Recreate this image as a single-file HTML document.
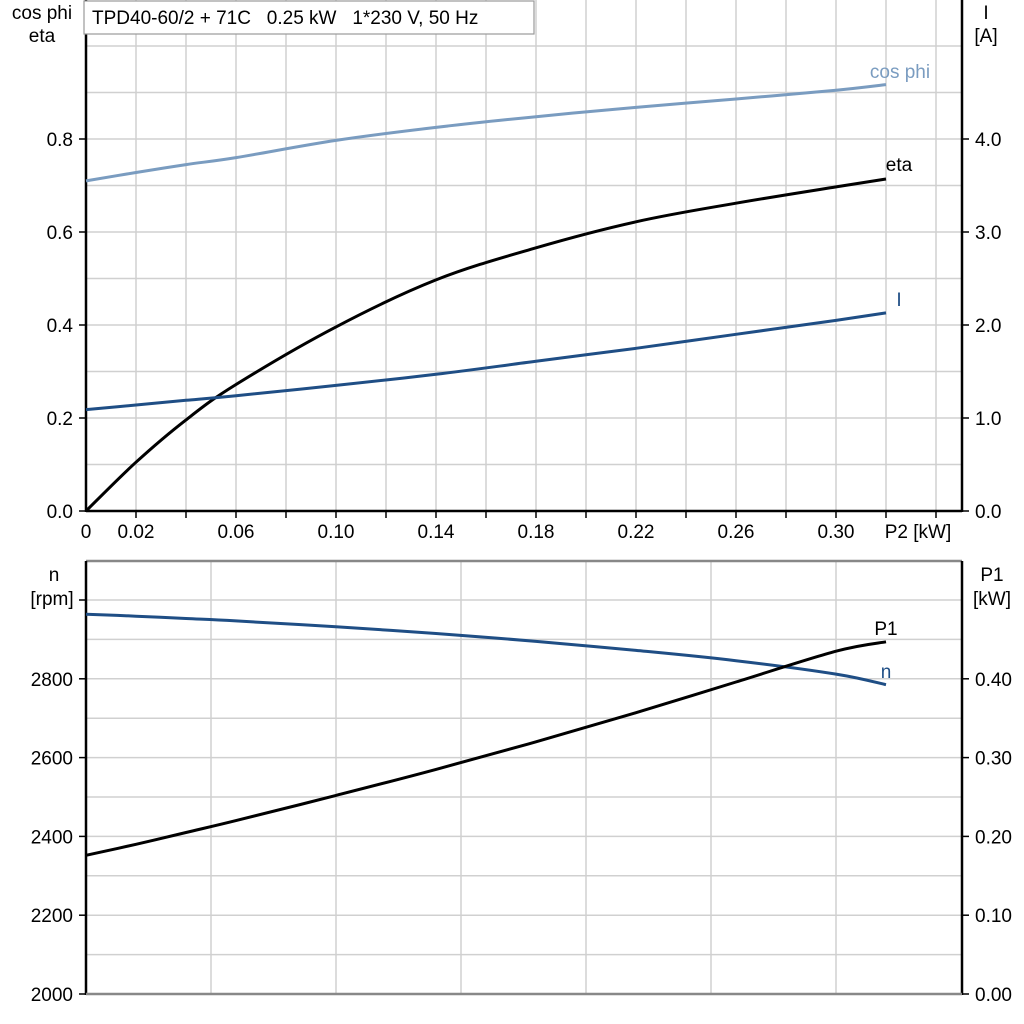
<!DOCTYPE html>
<html><head><meta charset="utf-8"><style>
body{margin:0;background:#fff;}
svg{display:block;font-family:"Liberation Sans",Arial,sans-serif;}
</style></head><body>
<svg id="c" width="1024" height="1024" viewBox="0 0 1024 1024"></svg>
<script>
const p2 = [0, 0.02, 0.04, 0.06, 0.10, 0.14, 0.18, 0.22, 0.26, 0.30, 0.32];
const cosPhi = [0.710, 0.728, 0.745, 0.760, 0.797, 0.825, 0.848, 0.868, 0.886, 0.905, 0.917];
const eta = [0.0, 0.105, 0.196, 0.272, 0.396, 0.497, 0.566, 0.622, 0.662, 0.697, 0.714];
const current = [1.09, 1.14, 1.19, 1.24, 1.35, 1.47, 1.61, 1.75, 1.90, 2.05, 2.13];
const speed = [2964, 2959, 2953, 2947, 2932, 2915, 2895, 2872, 2846, 2812, 2785];
const p1 = [0.176, 0.190, 0.205, 0.220, 0.252, 0.285, 0.320, 0.357, 0.396, 0.435, 0.447];
const xTicks = ["0","0.02","0.06","0.10","0.14","0.18","0.22","0.26","0.30"];
const xTickVals = [0,0.02,0.06,0.10,0.14,0.18,0.22,0.26,0.30];
const etaTicks = [0,0.2,0.4,0.6,0.8];
const iTicks = [0,1,2,3,4];
const nTicks = [2000,2200,2400,2600,2800];
const p1Ticks = [0,0.1,0.2,0.3,0.4];

const NS="http://www.w3.org/2000/svg";
const svg=document.getElementById('c');
function el(t,a,txt){const e=document.createElementNS(NS,t);for(const k in a)e.setAttribute(k,a[k]);if(txt!=null)e.textContent=txt;svg.appendChild(e);return e;}
const X0=86,X1=962;
const x=v=>X0+v*2500;
const yEta=v=>511-v*465;
const yI=v=>511-v*93;
const yN=v=>994-(v-2000)*0.394;
const yP1=v=>994-v*788;

for(let v=0.1;v<=1.01;v+=0.1){const g=el('line',{x1:X0,x2:X1,y1:yEta(v),y2:yEta(v),stroke:'#d0d0d0','stroke-width':1.5});}
for(let v=0.02;v<=0.35;v+=0.02){const g=el('line',{x1:x(v),x2:x(v),y1:0,y2:511,stroke:'#d0d0d0','stroke-width':1.5});}
for(let v=2100;v<=3050;v+=100){const g=el('line',{x1:X0,x2:X1,y1:yN(v),y2:yN(v),stroke:'#d0d0d0','stroke-width':1.5});}
for(let v=0.05;v<=0.34;v+=0.05){const g=el('line',{x1:x(v),x2:x(v),y1:561,y2:994,stroke:'#d0d0d0','stroke-width':1.5});}

el('line',{x1:X0,x2:X0,y1:0,y2:512,stroke:'#000','stroke-width':2.5});
el('line',{x1:X1,x2:X1,y1:0,y2:512,stroke:'#000','stroke-width':2.5});
el('line',{x1:X0,x2:X1,y1:511,y2:511,stroke:'#000','stroke-width':2.5});
el('line',{x1:X0,x2:X1,y1:561,y2:561,stroke:'#888','stroke-width':2.5});
el('line',{x1:X0,x2:X0,y1:561,y2:995,stroke:'#000','stroke-width':2.5});
el('line',{x1:X1,x2:X1,y1:561,y2:995,stroke:'#000','stroke-width':2.5});
el('line',{x1:X0,x2:X1,y1:994,y2:994,stroke:'#888','stroke-width':2.5});

const fs=19;
for(let v=0.02;v<=0.35;v+=0.02){el('line',{x1:x(v),x2:x(v),y1:511,y2:518,stroke:'#000','stroke-width':1.5});}
xTicks.forEach((t,i)=>{const e=el('text',{x:x(xTickVals[i]),y:538,'font-size':fs,'text-anchor':'middle'},t);});
el('text',{x:918,y:538,'font-size':fs,'text-anchor':'middle'},'P2 [kW]');

etaTicks.forEach(v=>{el('line',{x1:X0-7,x2:X0,y1:yEta(v),y2:yEta(v),stroke:'#000','stroke-width':1.5});const e=el('text',{x:73,y:yEta(v)+7,'font-size':fs,'text-anchor':'end'},v.toFixed(1));});
iTicks.forEach(v=>{el('line',{x1:X1,x2:X1+7,y1:yI(v),y2:yI(v),stroke:'#000','stroke-width':1.5});const e=el('text',{x:975,y:yI(v)+7,'font-size':fs},v.toFixed(1));});
nTicks.forEach(v=>{el('line',{x1:X0-7,x2:X0,y1:yN(v),y2:yN(v),stroke:'#000','stroke-width':1.5});const e=el('text',{x:73,y:yN(v)+7,'font-size':fs,'text-anchor':'end'},String(v));});
el('line',{x1:X0-7,x2:X0,y1:yN(3000),y2:yN(3000),stroke:'#000','stroke-width':1.5});
p1Ticks.forEach(v=>{el('line',{x1:X1,x2:X1+7,y1:yP1(v),y2:yP1(v),stroke:'#000','stroke-width':1.5});const e=el('text',{x:975,y:yP1(v)+7,'font-size':fs},v.toFixed(2));});

el('text',{x:42,y:19,'font-size':fs,'text-anchor':'middle'},'cos phi');
el('text',{x:42,y:42,'font-size':fs,'text-anchor':'middle'},'eta');
el('text',{x:986,y:19,'font-size':fs,'text-anchor':'middle'},'I');
el('text',{x:986,y:42,'font-size':fs,'text-anchor':'middle'},'[A]');
el('text',{x:54,y:581,'font-size':fs,'text-anchor':'middle'},'n');
el('text',{x:52,y:605,'font-size':fs,'text-anchor':'middle'},'[rpm]');
el('text',{x:992,y:581,'font-size':fs,'text-anchor':'middle'},'P1');
el('text',{x:992,y:605,'font-size':fs,'text-anchor':'middle'},'[kW]');

el('rect',{x:84,y:1,width:450,height:33,fill:'#fff',stroke:'#999','stroke-width':1.2});
const tt=el('text',{x:92,y:24,'font-size':fs,'xml:space':'preserve',style:'white-space:pre'},'TPD40-60/2 + 71C   0.25 kW   1*230 V, 50 Hz');


function line(arr,yf,color,name){
  const pts=p2.map((v,i)=>[x(v),yf(arr[i])]);
  let d='M'+pts[0][0].toFixed(1)+','+pts[0][1].toFixed(1);
  for(let i=0;i<pts.length-1;i++){
    const p0=pts[Math.max(i-1,0)],a=pts[i],b=pts[i+1],p3=pts[Math.min(i+2,pts.length-1)];
    const c1=[a[0]+(b[0]-p0[0])/6,a[1]+(b[1]-p0[1])/6];
    const c2=[b[0]-(p3[0]-a[0])/6,b[1]-(p3[1]-a[1])/6];
    d+=' C'+c1[0].toFixed(1)+','+c1[1].toFixed(1)+' '+c2[0].toFixed(1)+','+c2[1].toFixed(1)+' '+b[0].toFixed(1)+','+b[1].toFixed(1);
  }
  const e=el('path',{d:d,fill:'none',stroke:color,'stroke-width':3,'stroke-linejoin':'round'});
  
  
}
line(cosPhi,yEta,'#7a9cc0','cosphi-line');
line(eta,yEta,'#000','eta-line');
line(current,yI,'#1f4e85','current-line');
line(speed,yN,'#1f4e85','speed-line');
line(p1,yP1,'#000','p1-line');

el('text',{x:900,y:78,'font-size':fs,'text-anchor':'middle',fill:'#7a9cc0'},'cos phi');
el('text',{x:899,y:171,'font-size':fs,'text-anchor':'middle'},'eta');
el('text',{x:899,y:306,'font-size':fs,'text-anchor':'middle',fill:'#1f4e85'},'I');
el('text',{x:886,y:635,'font-size':fs,'text-anchor':'middle'},'P1');
el('text',{x:886,y:678,'font-size':fs,'text-anchor':'middle',fill:'#1f4e85'},'n');
</script>
</body></html>
